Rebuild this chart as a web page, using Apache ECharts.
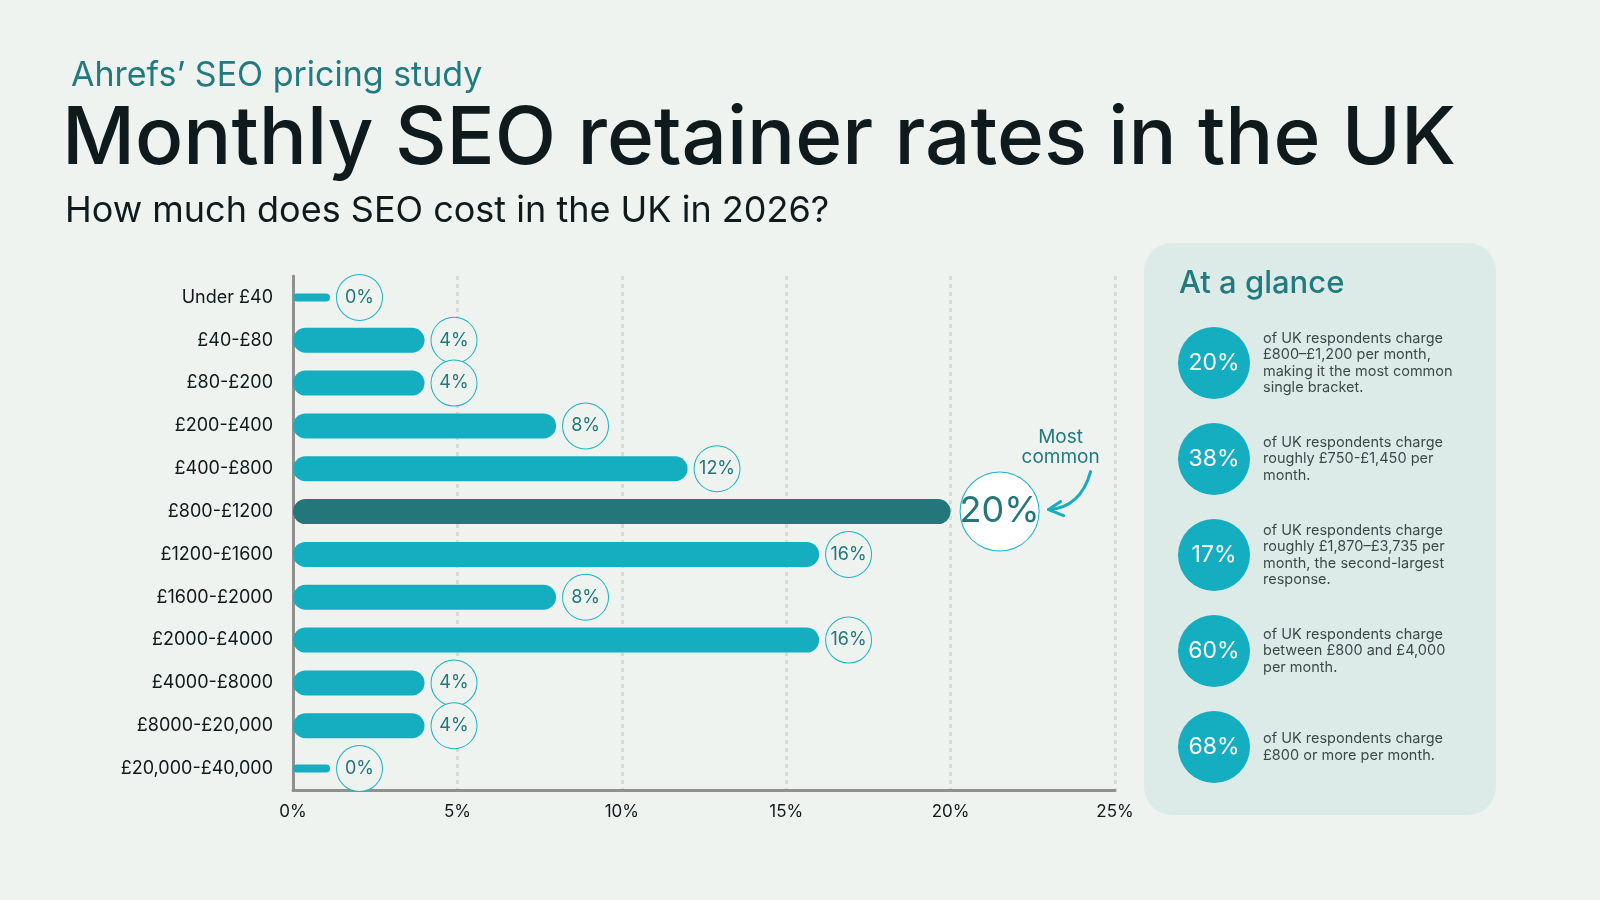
<!DOCTYPE html>
<html>
<head>
<meta charset="utf-8">
<title>Monthly SEO retainer rates in the UK</title>
<script src="https://cdn.jsdelivr.net/npm/echarts@6/dist/echarts.min.js"></script>
<style>
  html, body { margin: 0; padding: 0; background: #eef3ef; }
  #chart { width: 1600px; height: 900px; }
</style>
</head>
<body>
<div id="chart"></div>
<script>
const FONT = 'Inter, "Noto Sans", sans-serif'
const BG = '#eef3ef'
const CYAN = '#14aec0'
const DARK = '#237679'
const TEAL = '#22777a'
const INK = '#0f1a1c'
const RING = '#22b3c3'

// bars
const categories = [
  'Under £40', '£40-£80', '£80-£200', '£200-£400', '£400-£800', '£800-£1200',
  '£1200-£1600', '£1600-£2000', '£2000-£4000', '£4000-£8000', '£8000-£20,000', '£20,000-£40,000'
]
const shares = [0, 4, 4, 8, 12, 20, 16, 8, 16, 4, 4, 0]
const highlightCategory = '£800-£1200'
const axisMax = 25
const axisStep = 5

// "At a glance" panel
const glanceValues = [20, 38, 17, 60, 68]
const glanceTexts = [
  'of UK respondents charge\n£800–£1,200 per month,\nmaking it the most common\nsingle bracket.',
  'of UK respondents charge\nroughly £750-£1,450 per\nmonth.',
  'of UK respondents charge\nroughly £1,870–£3,735 per\nmonth, the second-largest\nresponse.',
  'of UK respondents charge\nbetween £800 and £4,000\nper month.',
  'of UK respondents charge\n£800 or more per month.'
]

const chart = echarts.init(document.getElementById('chart'))

const bubbleLabel = {
  show: true,
  position: 'right',
  distance: 7,
  formatter: '{p|{c}%}',
  padding: 0,
  borderRadius: 23,
  borderWidth: 1,
  borderColor: RING,
  backgroundColor: BG,
  rich: {
    p: { width: 45, height: 45, lineHeight: 45, align: 'center', fontSize: 18, color: TEAL, fontFamily: FONT },
    q: { width: 78, height: 78, lineHeight: 78, align: 'center', fontSize: 36, color: TEAL, fontFamily: FONT }
  }
}

const barData = shares.map((v, i) => {
  if (v === 0) return '-'
  if (categories[i] !== highlightCategory) return v
  return {
    value: v,
    itemStyle: { color: DARK },
    label: { distance: 10, borderRadius: 39, backgroundColor: '#ffffff', formatter: '{q|{c}%}' }
  }
})
// 0% rows get a short thin stub
const stubData = shares.map(v => (v === 0 ? 0 : '-'))

const option = {
  animation: false,
  backgroundColor: BG,
  textStyle: { fontFamily: FONT },
  grid: [
    { left: 293, top: 276, width: 822, height: 514 },
    { left: 1114, top: 315, width: 200, height: 480 }
  ],
  xAxis: [
    {
      type: 'value', gridIndex: 0, min: 0, max: axisMax, interval: axisStep,
      axisLine: { show: true, lineStyle: { color: '#8f9190', width: 3 } },
      axisTick: { show: false },
      axisLabel: { formatter: '{value}%', fontSize: 17, color: INK, margin: 13, fontFamily: FONT },
      splitLine: { show: true, showMinLine: false, lineStyle: { color: '#d8dbd9', width: 3, type: [4, 4] } }
    },
    { type: 'value', gridIndex: 1, min: -1, max: 1, show: false }
  ],
  yAxis: [
    {
      type: 'category', gridIndex: 0, data: categories, inverse: true,
      axisLine: { show: true, lineStyle: { color: '#8f9190', width: 3 } },
      axisTick: { show: false },
      axisLabel: { fontSize: 18, color: INK, margin: 20, fontFamily: FONT }
    },
    { type: 'category', gridIndex: 0, data: categories, inverse: true, show: false },
    { type: 'category', gridIndex: 1, data: glanceValues.map(String), inverse: true, show: false }
  ],
  series: [
    {
      type: 'bar', name: 'share', xAxisIndex: 0, yAxisIndex: 0,
      data: barData,
      barWidth: 25,
      itemStyle: { color: CYAN, borderRadius: 12.5 },
      label: bubbleLabel
    },
    {
      type: 'bar', name: 'zero', xAxisIndex: 0, yAxisIndex: 1,
      data: stubData,
      barWidth: 8,
      barMinHeight: 37,
      itemStyle: { color: CYAN, borderRadius: 4 },
      label: bubbleLabel
    },
    {
      type: 'scatter', name: 'glance', xAxisIndex: 1, yAxisIndex: 2,
      data: glanceValues.map((v, i) => [0, i]),
      symbolSize: 72,
      itemStyle: { color: CYAN, opacity: 1 },
      label: {
        show: true, position: 'inside',
        formatter: p => glanceValues[p.dataIndex] + '%',
        fontSize: 23, color: '#ffffff', fontFamily: FONT
      }
    },
    {
      type: 'scatter', name: 'glanceText', xAxisIndex: 1, yAxisIndex: 2,
      data: glanceValues.map((v, i) => [0, i]),
      symbolSize: 72,
      itemStyle: { color: 'transparent' },
      label: {
        show: true, position: 'right', distance: 13,
        formatter: p => glanceTexts[p.dataIndex],
        fontSize: 14.5, lineHeight: 16.5, color: '#141a1b', fontFamily: FONT, align: 'left'
      }
    }
  ],
  graphic: [
    {
      type: 'rect', id: 'panel', z: -10,
      shape: { x: 1144, y: 243, width: 352, height: 572, r: 28 },
      style: { fill: '#dcebe8' }
    },
    {
      type: 'text', x: 71, y: 76,
      style: { text: 'Ahrefs’ SEO pricing study', fontSize: 34, fill: '#237a7e', fontFamily: FONT, verticalAlign: 'middle' }
    },
    {
      type: 'text', x: 62, y: 140,
      style: { text: 'Monthly SEO retainer rates in the UK', fontSize: 80, fontWeight: 500, fill: INK, fontFamily: FONT, verticalAlign: 'middle' }
    },
    {
      type: 'text', x: 65, y: 211,
      style: { text: 'How much does SEO cost in the UK in 2026?', fontSize: 36, fill: INK, fontFamily: FONT, verticalAlign: 'middle' }
    },
    {
      type: 'text', x: 1179, y: 284,
      style: { text: 'At a glance', fontSize: 31, fontWeight: 500, fill: '#237a7e', fontFamily: FONT, verticalAlign: 'middle' }
    }
  ]
}

chart.setOption(option)

// "Most common" callout next to the highlighted bar
const hi = categories.indexOf(highlightCategory)
const [bx, by] = chart.convertToPixel({ xAxisIndex: 0, yAxisIndex: 0 }, [shares[hi], hi])
const cx = bx + 50
const tip = [cx + 48, by - 2]
chart.setOption({
  graphic: [
    {
      type: 'text', id: 'mostCommon', x: cx + 60, y: by - 64,
      style: { text: 'Most\ncommon', fontSize: 19, lineHeight: 20, fill: '#237a7e', fontFamily: FONT, align: 'center', verticalAlign: 'middle' }
    },
    {
      type: 'bezierCurve', id: 'arrowCurve',
      shape: { x1: cx + 90, y1: by - 40, cpx1: cx + 80, cpy1: by - 4, x2: tip[0], y2: tip[1] },
      style: { stroke: '#17adbe', lineWidth: 3, fill: null, lineCap: 'round' }
    },
    {
      type: 'polyline', id: 'arrowHead',
      shape: { points: [[tip[0] + 12, tip[1] - 8], tip, [tip[0] + 15, tip[1] + 6]] },
      style: { stroke: '#17adbe', lineWidth: 3, fill: null, lineCap: 'round', lineJoin: 'round' }
    }
  ]
})
</script>
</body>
</html>
